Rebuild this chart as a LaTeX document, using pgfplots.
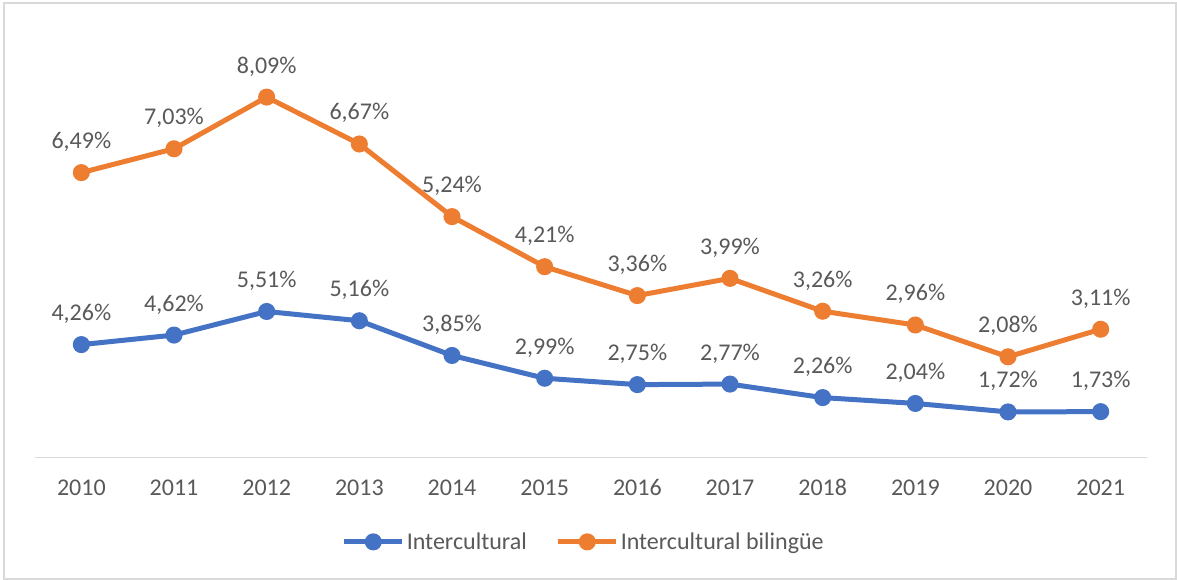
\documentclass[border=0pt]{standalone}
\usepackage{pgfplots}
\pgfplotsset{compat=1.18}
\usepackage{pgfplotstable}
\usepackage{fontspec}
\setmainfont{Carlito}
\definecolor{cblue}{HTML}{4472C4}
\definecolor{corange}{HTML}{ED7D31}
\definecolor{txt}{HTML}{595959}
\definecolor{lgray}{HTML}{D9D9D9}
\pgfplotstableread{
x year blue orange
0 2010 4.26 6.49
1 2011 4.62 7.03
2 2012 5.51 8.09
3 2013 5.16 6.67
4 2014 3.85 5.24
5 2015 2.99 4.21
6 2016 2.75 3.36
7 2017 2.77 3.99
8 2018 2.26 3.26
9 2019 2.04 2.96
10 2020 1.72 2.08
11 2021 1.73 3.11
}\datatable
\begin{document}
\begin{tikzpicture}
\useasboundingbox (0,0) rectangle (1177pt,580pt);
\draw[lgray, line width=1.5pt] (4pt,1pt) rectangle (1176pt,577pt);
\begin{axis}[
  at={(35pt,122.5pt)}, anchor=south west,
  scale only axis, width=1112pt, height=424pt,
  xmin=-0.5, xmax=11.5, ymin=0, ymax=16,
  axis x line*=bottom, axis y line=none,
  x axis line style={-, draw=lgray, line width=1.5pt},
  xtick={0,...,11},
  xticklabels={2010,2011,2012,2013,2014,2015,2016,2017,2018,2019,2020,2021},
  xtick style={draw=none},
  xticklabel style={anchor=base, yshift=-38.5pt, text=txt, font=\fontsize{24}{28}\selectfont},
  ytick=\empty,
  clip=false,
  stack plots=y,
  /pgf/number format/assume math mode=true,
  /pgf/number format/.cd, use comma, fixed, fixed zerofill, precision=2, /pgfplots/.cd,
  nodes near coords={\pgfmathprintnumber{\pgfplotspointmeta}\%},
  every node near coord/.append style={anchor=base, yshift=24pt, text=txt, font=\fontsize{24}{28}\selectfont},
  legend columns=2,
  legend style={draw=none, fill=none, at={(0.4935,-0.199)}, anchor=center,
    font=\fontsize{24}{28}\selectfont, text=txt,
    /tikz/every even column/.append style={column sep=27pt}},
  legend image code/.code={\draw[mark repeat=2, mark phase=2, #1] plot coordinates {(0pt,0pt) (29pt,0pt) (58pt,0pt)};},
]
\addplot[cblue, line width=5pt, mark=*, mark size=6pt, mark options={solid}, point meta=\thisrow{blue}] table[x=x, y=blue] {\datatable};
\addlegendentry{Intercultural}
\addplot[corange, line width=5pt, mark=*, mark size=6pt, mark options={solid}, point meta=\thisrow{orange}] table[x=x, y=orange] {\datatable};
\addlegendentry{Intercultural bilingüe}
\end{axis}
\end{tikzpicture}
\end{document}
